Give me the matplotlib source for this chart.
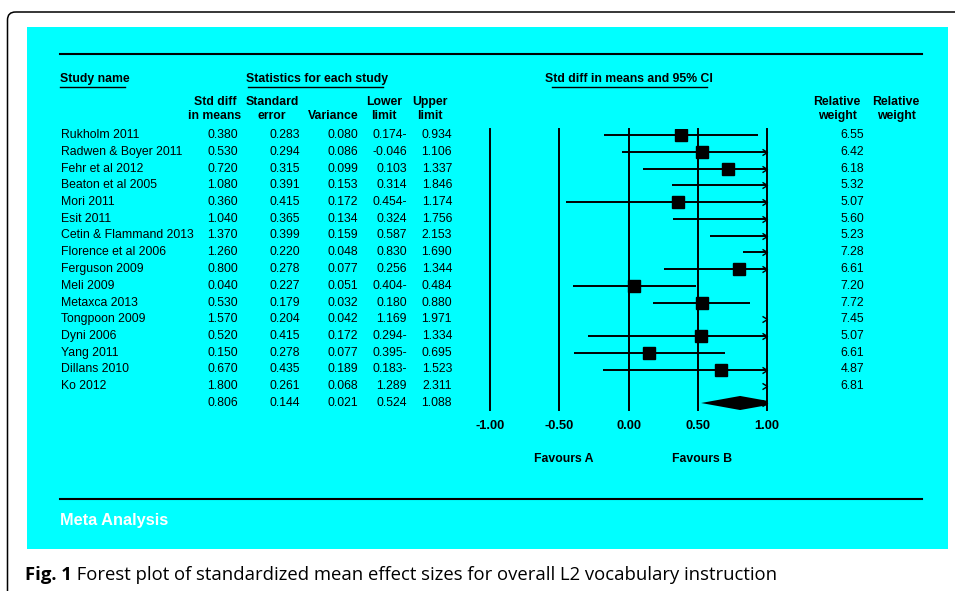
import numpy as np
import matplotlib
matplotlib.use("Agg")
import matplotlib.pyplot as plt
import matplotlib.transforms as mtransforms
from matplotlib.patches import Rectangle, FancyBboxPatch
from matplotlib.lines import Line2D
from matplotlib.path import Path

# data
studies = ["Rukholm 2011", "Radwen & Boyer 2011", "Fehr et al 2012", "Beaton et al 2005",
           "Mori 2011", "Esit 2011", "Cetin & Flammand 2013", "Florence et al 2006",
           "Ferguson 2009", "Meli 2009", "Metaxca 2013", "Tongpoon 2009", "Dyni 2006",
           "Yang 2011", "Dillans 2010", "Ko 2012"]
smd = [0.380, 0.530, 0.720, 1.080, 0.360, 1.040, 1.370, 1.260,
       0.800, 0.040, 0.530, 1.570, 0.520, 0.150, 0.670, 1.800]
std_err = [0.283, 0.294, 0.315, 0.391, 0.415, 0.365, 0.399, 0.220,
           0.278, 0.227, 0.179, 0.204, 0.415, 0.278, 0.435, 0.261]
variance = [0.080, 0.086, 0.099, 0.153, 0.172, 0.134, 0.159, 0.048,
            0.077, 0.051, 0.032, 0.042, 0.172, 0.077, 0.189, 0.068]
lower = [-0.174, -0.046, 0.103, 0.314, -0.454, 0.324, 0.587, 0.830,
         0.256, -0.404, 0.180, 1.169, -0.294, -0.395, -0.183, 1.289]
lower_text = ["0.174-", "-0.046", "0.103", "0.314", "0.454-", "0.324", "0.587", "0.830",
              "0.256", "0.404-", "0.180", "1.169", "0.294-", "0.395-", "0.183-", "1.289"]
upper = [0.934, 1.106, 1.337, 1.846, 1.174, 1.756, 2.153, 1.690,
         1.344, 0.484, 0.880, 1.971, 1.334, 0.695, 1.523, 2.311]
rel_weight = [6.55, 6.42, 6.18, 5.32, 5.07, 5.60, 5.23, 7.28,
              6.61, 7.20, 7.72, 7.45, 5.07, 6.61, 4.87, 6.81]
summary = {"smd": 0.806, "se": 0.144, "var": 0.021, "lower": 0.524, "upper": 1.088}
xticks = [-1.0, -0.5, 0.0, 0.5, 1.0]

W, H = 955, 591
CYAN = "#00ffff"
FONT = "Liberation Sans"
FS = 8.8

fig = plt.figure(figsize=(W / 100, H / 100), dpi=100)
fig.patch.set_facecolor("white")

# pixel coordinates (origin top-left) for layout
px = mtransforms.Affine2D().scale(1 / W, -1 / H).translate(0, 1) + fig.transFigure

# outer rounded frame (cut off at right and bottom) and cyan panel, behind the axes
fig.add_artist(FancyBboxPatch((7.5, 12), 1100, 700, boxstyle="round,pad=0,rounding_size=8",
                              transform=px, fc="none", ec="black", lw=1.1, zorder=-3))
fig.add_artist(Rectangle((27, 27), 921, 522, transform=px, fc=CYAN, ec="none", zorder=-2))
for y in (54, 499):
    fig.add_artist(Line2D([60, 922], [y, y], transform=px, color="black", lw=1.5, zorder=-1))

# forest plot axes: x -1..1 spans 490..767 px, rows spaced 16.75 px from y=135
n = len(studies)
rows = np.arange(n + 1)
top_px, bot_px, row0, dy = 129, 410, 135, 16.75
ax = fig.add_axes([490 / W, 1 - bot_px / H, (767 - 490) / W, (bot_px - top_px) / H])
ax.set_facecolor("none")
ax.set_xlim(-1, 1)
ax.set_ylim((bot_px - row0) / dy, (top_px - row0) / dy)
for s in ax.spines.values():
    s.set_visible(False)
ax.set_yticks([])
ax.set_xticks(xticks, labels=[f"{t:.2f}" for t in xticks])
ax.tick_params(axis="x", length=0, pad=7.5)
for lab in ax.get_xticklabels():
    lab.set_fontfamily(FONT)
    lab.set_fontweight("bold")
    lab.set_fontsize(9.3)

for t in xticks:
    ax.axvline(t, color="black", lw=1.4, clip_on=False)

study_rows = rows[:n]
ax.hlines(study_rows, lower, upper, color="black", lw=1.4)
ax.plot(smd, study_rows, "s", color="black", ms=9)

# summary diamond
s_row = rows[n]
ax.fill([summary["lower"], summary["smd"], summary["upper"], summary["smd"]],
        [s_row, s_row - 0.42, s_row, s_row + 0.42], color="black", lw=0)

# chevrons where the interval runs past the axis
chev = Path([(-1.6, 1), (0, 0), (-1.6, -1)], [Path.MOVETO, Path.LINETO, Path.LINETO])
all_upper = np.array(upper + [summary["upper"]])
over = all_upper > 1
ax.plot(np.ones(over.sum()), rows[over], linestyle="none", marker=chev, ms=7.2,
        mfc="none", mec="black", mew=1.0, clip_on=False)

# table text aligned with plot rows
row_tf = mtransforms.blended_transform_factory(fig.transFigure, ax.transData)


def col(xpix, vals, ha="right"):
    for r, v in zip(rows, vals):
        fig.text(xpix / W, r, v, transform=row_tf, ha=ha, va="center",
                 family=FONT, fontsize=FS, color="black")


col(61, studies, ha="left")
col(238, [f"{v:.3f}" for v in smd] + [f"{summary['smd']:.3f}"])
col(300, [f"{v:.3f}" for v in std_err] + [f"{summary['se']:.3f}"])
col(358, [f"{v:.3f}" for v in variance] + [f"{summary['var']:.3f}"])
col(407, lower_text + [f"{summary['lower']:.3f}"])
col(452, [f"{v:.3f}" for v in upper] + [f"{summary['upper']:.3f}"])
col(864, [f"{v:.2f}" for v in rel_weight])


def ptext(x, y, s, ha="center", **kw):
    fig.text(x / W, 1 - y / H, s, ha=ha, va="center", family=FONT,
             fontsize=kw.pop("fontsize", FS), fontweight=kw.pop("fontweight", "bold"), **kw)


# section headings with underlines
ptext(60, 79, "Study name", ha="left")
ptext(317, 79, "Statistics for each study")
ptext(629, 79, "Std diff in means and 95% CI")
for x0, x1 in ((60, 125), (248, 383), (552, 707)):
    fig.add_artist(Line2D([x0, x1], [86.5, 86.5], transform=px, color="black", lw=1.0))

# column headings
heads = [(215, "Std diff", "in means"), (272, "Standard", "error"), (333, "", "Variance"),
         (384, "Lower", "limit"), (430, "Upper", "limit"),
         (837, "Relative", "weight"), (896, "Relative", "weight")]
for x, l1, l2 in heads:
    if l1:
        ptext(x, 102, l1)
    ptext(x, 116, l2)

# favours labels under the axis
fav_tf = mtransforms.blended_transform_factory(ax.transData, px)
for xd, s in ((-0.47, "Favours A"), (0.53, "Favours B")):
    ax.text(xd, 459, s, transform=fav_tf, ha="center", va="center",
            family=FONT, fontsize=FS, fontweight="bold")

ptext(60, 520, "Meta Analysis", ha="left", fontsize=11.8, color="white")

# caption
cap = fig.text(25 / W, 1 - 575 / H, "Fig. 1", ha="left", va="center",
               family="Open Sans", fontweight="bold", fontsize=13.3)
ax.annotate(" Forest plot of standardized mean effect sizes for overall L2 vocabulary instruction",
            xy=(1, 0.5), xycoords=cap, ha="left", va="center",
            family="Open Sans", fontsize=13.3, annotation_clip=False)

fig.savefig("out.png", dpi=100)
